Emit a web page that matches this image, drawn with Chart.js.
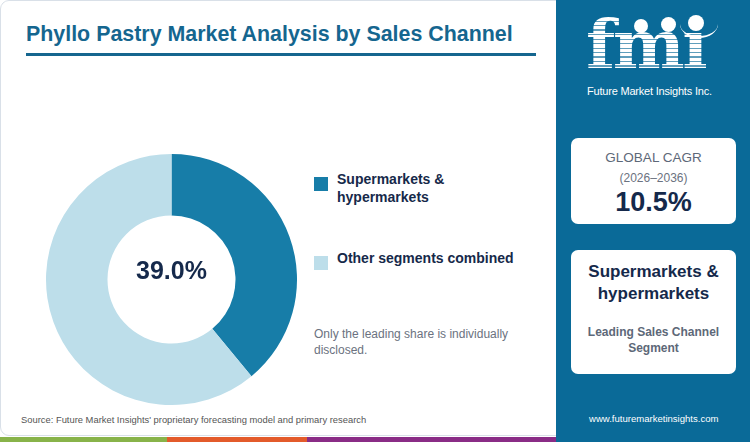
<!DOCTYPE html>
<html>
<head>
<meta charset="utf-8">
<script src="https://cdn.jsdelivr.net/npm/chart.js@4.4.1/dist/chart.umd.min.js"></script>
<style>
  html, body { margin:0; padding:0; }
  body { width:750px; height:442px; position:relative; overflow:hidden; background:#ffffff; font-family:"Liberation Sans", Arial, sans-serif; }
  .card { position:absolute; left:0; top:0; width:570px; height:436px; border:1px solid #d9e0e8; border-radius:9px; box-sizing:border-box; background:#fff; }
  .title { position:absolute; left:25px; top:20px; font-size:21.4px; font-weight:bold; color:#15668f; line-height:26px; white-space:nowrap; }
  .rule { position:absolute; left:25px; top:52px; width:510px; height:3px; background:#15668f; }
  .chartbox { position:absolute; left:45px; top:153px; width:251px; height:251px; }
  .legend { position:absolute; left:313px; top:169px; }
  .litem { display:flex; align-items:flex-start; margin-bottom:43px; }
  .lbox { width:14px; height:14px; margin-top:7px; flex:none; }
  .ltext { margin-left:9px; max-width:192px; font-size:14px; font-weight:bold; color:#16294a; line-height:18px; }
  .note { position:absolute; left:313px; top:325px; width:230px; font-size:12px; color:#6b7280; line-height:16px; }
  .source { position:absolute; left:20px; top:412px; font-size:9.4px; color:#555; line-height:14px; white-space:nowrap; }
  .panel { position:absolute; left:556px; top:0; width:194px; height:442px; background:#0a6a98; }
  .stripe { position:absolute; top:437px; height:5px; }
  .kcard { position:absolute; left:15px; width:165px; background:#fff; border-radius:7px; }
  .kc { position:absolute; left:0; width:100%; text-align:center; white-space:nowrap; }
  .url { position:absolute; left:33px; top:412px; font-size:9.55px; color:#fff; line-height:14px; white-space:nowrap; }
  .logo { position:absolute; left:28px; top:0; width:160px; height:100px; }
  .fmi { position:absolute; left:2px; top:13px; font-family:"DejaVu Serif", serif; font-weight:bold; font-size:68px; line-height:62px; letter-spacing:-2.5px;
         color:transparent; background:repeating-linear-gradient(to bottom, #ffffff 0px, #ffffff 3px, rgba(255,255,255,0.35) 3px, rgba(255,255,255,0.35) 4.5px);
         -webkit-background-clip:text; background-clip:text; }
  .dot { position:absolute; border-radius:50%; background:#fff; }
  .arc { position:absolute; left:96px; top:10px; width:38px; height:26px; border-bottom:2px solid #fff; border-radius:0 0 50% 50%; }
  .fmitext { position:absolute; left:3px; top:85px; font-size:11px; line-height:13px; color:#fff; white-space:nowrap; letter-spacing:-0.2px; }
</style>
</head>
<body>
<div class="card">
  <div class="title">Phyllo Pastry Market Analysis by Sales Channel</div>
  <div class="rule"></div>
  <div class="chartbox"><canvas id="c"></canvas></div>
  <div class="legend" id="legend"></div>
  <div class="note" id="note"></div>
  <div class="source" id="source"></div>
</div>
<div class="stripe" style="left:0;width:167px;background:#88b34a"></div>
<div class="stripe" style="left:167px;width:140px;background:#e35b2b"></div>
<div class="stripe" style="left:307px;width:249px;background:#8a2c86"></div>
<div class="panel">
  <div class="logo">
    <div class="arc"></div>
    <div class="fmi">fmı</div>
    <div class="dot" style="left:50px;top:19px;width:14px;height:14px"></div>
    <div class="dot" style="left:77px;top:17px;width:15px;height:15px"></div>
    <div class="dot" style="left:104px;top:15px;width:16px;height:16px"></div>
    <div class="fmitext">Future Market Insights Inc.</div>
  </div>
  <div class="kcard" style="top:138px;height:86px">
    <div class="kc" style="top:12px;font-size:13.5px;color:#5d6878;line-height:16px" id="k1"></div>
    <div class="kc" style="top:33px;font-size:12px;color:#6b7280;line-height:14px" id="k2"></div>
    <div class="kc" style="top:48px;font-size:27px;font-weight:bold;color:#15294b;line-height:32px" id="k3"></div>
  </div>
  <div class="kcard" style="top:250px;height:124px">
    <div class="kc" style="top:11px;font-size:17px;font-weight:bold;color:#15294b;line-height:22px" id="k4a"></div>
    <div class="kc" style="top:33px;font-size:17px;font-weight:bold;color:#15294b;line-height:22px" id="k4b"></div>
    <div class="kc" style="top:74px;font-size:12px;font-weight:bold;color:#5d6878;line-height:16px" id="k5a"></div>
    <div class="kc" style="top:90px;font-size:12px;font-weight:bold;color:#5d6878;line-height:16px" id="k5b"></div>
  </div>
  <div class="url" id="url"></div>
</div>
<script>
// ---- data ----
const categories = ["Supermarkets & hypermarkets", "Other segments combined"];
const shares = [39.0, 61.0];
const sliceColors = ["#177da8", "#bddeea"];
const centerLabel = "39.0%";
const noteText = "Only the leading share is individually disclosed.";
const sourceText = "Source: Future Market Insights' proprietary forecasting model and primary research";
const urlText = "www.futuremarketinsights.com";
const cagrTitle = "GLOBAL CAGR";
const cagrPeriod = "(2026\u20132036)";
const cagrValue = "10.5%";
const leadSegmentLines = ["Supermarkets &", "hypermarkets"];
const leadCaptionLines = ["Leading Sales Channel", "Segment"];

// ---- text ----
document.getElementById('note').textContent = noteText;
document.getElementById('source').textContent = sourceText;
document.getElementById('url').textContent = urlText;
document.getElementById('k1').textContent = cagrTitle;
document.getElementById('k2').textContent = cagrPeriod;
document.getElementById('k3').textContent = cagrValue;
document.getElementById('k4a').textContent = leadSegmentLines[0];
document.getElementById('k4b').textContent = leadSegmentLines[1];
document.getElementById('k5a').textContent = leadCaptionLines[0];
document.getElementById('k5b').textContent = leadCaptionLines[1];

const legend = document.getElementById('legend');
categories.forEach((c, i) => {
  const item = document.createElement('div'); item.className = 'litem';
  const box = document.createElement('div'); box.className = 'lbox'; box.style.background = sliceColors[i];
  const t = document.createElement('div'); t.className = 'ltext'; t.textContent = c;
  item.appendChild(box); item.appendChild(t); legend.appendChild(item);
});

const centerText = {
  id: 'centerText',
  afterDraw(chart) {
    const arc = chart.getDatasetMeta(0).data[0];
    if (!arc) return;
    const ctx = chart.ctx;
    ctx.save();
    ctx.font = 'bold 25px "Liberation Sans", Arial, sans-serif';
    ctx.fillStyle = '#15294b';
    ctx.textAlign = 'center';
    ctx.textBaseline = 'middle';
    ctx.fillText(centerLabel, arc.x, arc.y - 7);
    ctx.restore();
  }
};

new Chart(document.getElementById('c'), {
  type: 'doughnut',
  data: {
    labels: categories,
    datasets: [{ data: shares, backgroundColor: sliceColors, borderWidth: 0, hoverOffset: 0 }]
  },
  options: {
    responsive: true,
    maintainAspectRatio: false,
    animation: false,
    cutout: '51%',
    layout: { padding: 0 },
    plugins: { legend: { display: false }, tooltip: { enabled: false } }
  },
  plugins: [centerText]
});
</script>
</body>
</html>
